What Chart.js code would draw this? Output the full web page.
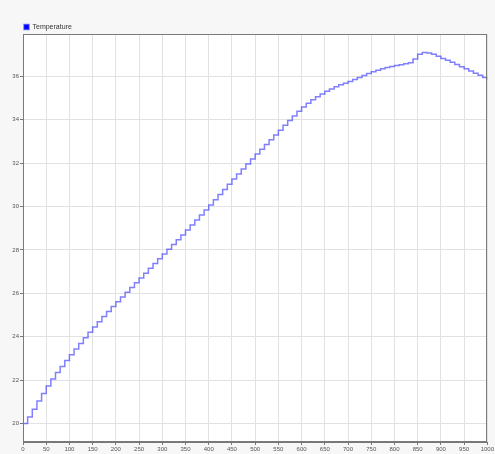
<!DOCTYPE html>
<html>
<head>
<meta charset="utf-8">
<title>Temperature</title>
<script src="https://cdn.jsdelivr.net/npm/chart.js@4.4.1/dist/chart.umd.min.js"></script>
<style>
  html, body { margin: 0; padding: 0; background: #f7f7f7; }
  #chart { display: block; }
</style>
</head>
<body>
<canvas id="chart" width="495" height="454"></canvas>
<script>
  // sample positions (time) and temperature
  const xValues = [
    0, 10, 20, 30, 40, 50, 60, 70, 80, 90,
    100, 110, 120, 130, 140, 150, 160, 170, 180, 190,
    200, 210, 220, 230, 240, 250, 260, 270, 280, 290,
    300, 310, 320, 330, 340, 350, 360, 370, 380, 390,
    400, 410, 420, 430, 440, 450, 460, 470, 480, 490,
    500, 510, 520, 530, 540, 550, 560, 570, 580, 590,
    600, 610, 620, 630, 640, 650, 660, 670, 680, 690,
    700, 710, 720, 730, 740, 750, 760, 770, 780, 790,
    800, 810, 820, 830, 840, 850, 860, 870, 880, 890,
    900, 910, 920, 930, 940, 950, 960, 970, 980, 990,
    1000
  ];

  const temperature = [
    20.00, 20.30, 20.66, 21.03, 21.38, 21.73, 22.05, 22.35, 22.63, 22.90,
    23.17, 23.43, 23.69, 23.95, 24.20, 24.45, 24.69, 24.93, 25.16, 25.39,
    25.61, 25.83, 26.05, 26.27, 26.49, 26.71, 26.93, 27.15, 27.37, 27.59,
    27.81, 28.03, 28.25, 28.47, 28.69, 28.92, 29.15, 29.38, 29.61, 29.84,
    30.07, 30.31, 30.55, 30.79, 31.03, 31.27, 31.50, 31.73, 31.96, 32.19,
    32.42, 32.64, 32.86, 33.08, 33.30, 33.52, 33.75, 33.97, 34.18, 34.39,
    34.59, 34.76, 34.92, 35.06, 35.19, 35.31, 35.42, 35.52, 35.61, 35.69,
    35.77, 35.86, 35.95, 36.04, 36.13, 36.21, 36.28, 36.35, 36.41, 36.46,
    36.50, 36.54, 36.58, 36.63, 36.80, 37.02, 37.10, 37.08, 37.02, 36.93,
    36.83, 36.74, 36.65, 36.55, 36.45, 36.35, 36.25, 36.15, 36.05, 35.95,
    35.85
  ];

  const yTickValues = [20, 22, 24, 26, 28, 30, 32, 34, 36];

  const FONT = "'Liberation Sans', Arial, sans-serif";
  const TICK_FONT = { family: FONT, size: 6 };

  // white plot area + dark frame around it
  const plotFrame = {
    id: "plotFrame",
    beforeDraw(chart) {
      const { ctx, chartArea: a } = chart;
      ctx.save();
      ctx.fillStyle = "#f7f7f7";
      ctx.fillRect(0, 0, chart.width, chart.height);
      ctx.fillStyle = "#ffffff";
      ctx.fillRect(a.left, a.top, a.right - a.left, a.bottom - a.top);
      ctx.restore();
    },
    afterDraw(chart) {
      const { ctx, chartArea: a } = chart;
      ctx.save();
      ctx.strokeStyle = "#7a7a7a";
      ctx.lineWidth = 1;
      ctx.strokeRect(Math.round(a.left) + 0.5, Math.round(a.top) + 0.5,
        Math.round(a.right - a.left) - 1, Math.round(a.bottom - a.top) - 1);
      ctx.restore();
    }
  };

  new Chart(document.getElementById("chart"), {
    type: "line",
    data: {
      datasets: [{
        label: "Temperature",
        data: xValues.map((x, i) => ({ x, y: temperature[i] })),
        stepped: true,
        borderColor: "rgba(50,50,255,0.62)",
        backgroundColor: "#0000ff",
        borderWidth: 1.5,
        pointRadius: 0,
        fill: false
      }]
    },
    options: {
      responsive: false,
      animation: false,
      layout: { padding: { top: 9.5, left: 10, right: 0, bottom: 0 } },
      plugins: {
        legend: {
          position: "top",
          align: "start",
          maxHeight: 24.5,
          labels: {
            boxWidth: 5,
            boxHeight: 5,
            padding: 14,
            color: "#333",
            font: { family: FONT, size: 7 }
          }
        },
        tooltip: { enabled: false }
      },
      scales: {
        x: {
          type: "linear",
          min: 0,
          max: 1000,
          ticks: {
            stepSize: 50, autoSkip: false, maxRotation: 0, padding: 1,
            color: "#555", font: TICK_FONT,
            callback: v => String(v)
          },
          grid: { color: "#e2e2e2", tickLength: 3, tickColor: "#777" },
          border: { color: "#777" },
          afterFit: s => { s.height = 12; }
        },
        y: {
          type: "linear",
          min: 19.145,
          max: 37.955,
          afterBuildTicks: s => { s.ticks = yTickValues.map(v => ({ value: v })); },
          afterFit: s => { s.width = 13; },
          ticks: { padding: 1, color: "#555", font: TICK_FONT, callback: v => String(v) },
          grid: { color: "#e2e2e2", tickLength: 3, tickColor: "#777" },
          border: { color: "#777" }
        }
      }
    },
    plugins: [plotFrame]
  });
</script>
</body>
</html>
